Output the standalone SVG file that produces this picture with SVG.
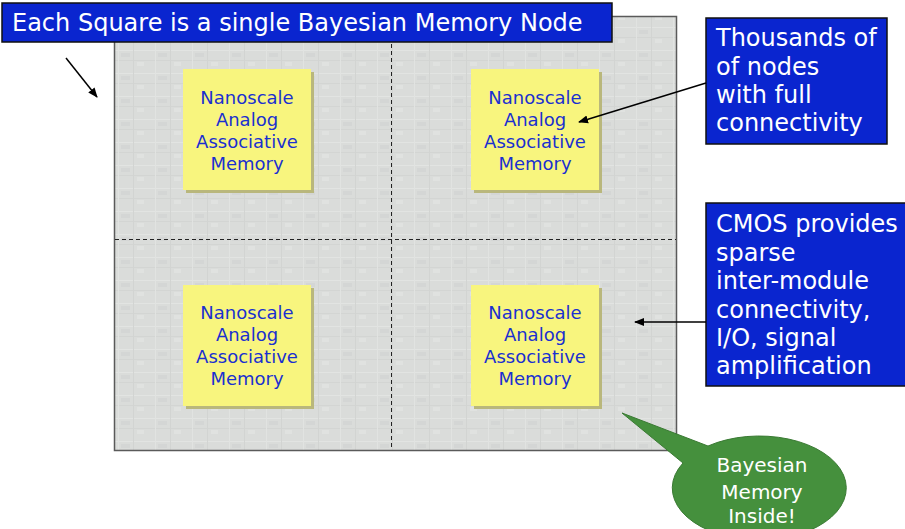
<svg xmlns="http://www.w3.org/2000/svg" width="905" height="529" viewBox="0 0 905 529">
  <defs>
    <pattern id="tex" x="0" y="0" width="37" height="23" patternUnits="userSpaceOnUse">
      <rect width="37" height="23" fill="#dadcda"/>
      <rect x="0" y="4" width="37" height="1" fill="#e2e4e2"/>
      <rect x="0" y="14" width="37" height="1" fill="#d3d5d3"/>
      <rect x="7" y="0" width="1" height="23" fill="#e1e3e1"/>
      <rect x="22" y="0" width="1" height="23" fill="#d2d4d2"/>
      <rect x="10" y="7" width="9" height="4" fill="#d4d6d5"/>
      <rect x="26" y="16" width="7" height="4" fill="#e0e2e0"/>
    </pattern>
    <marker id="ah" viewBox="0 0 10 10" refX="9" refY="5" markerWidth="10" markerHeight="10" markerUnits="userSpaceOnUse" orient="auto">
      <path d="M0,1 L10,5 L0,9 Z" fill="#000"/>
    </marker>
  </defs>
  <style>
    .lbl { font-family: "DejaVu Sans", Verdana, sans-serif; }
    .node rect.face { fill: #f8f57e; }
    .node rect.shadow { fill: #b9b77c; }
    .node text { font-family: "DejaVu Sans", Verdana, sans-serif; font-size: 18px; fill: #1a30d0; text-anchor: middle; }
    .blue { fill: #0a25cf; stroke: #111; stroke-width: 1.5; }
    .wt { font-family: "DejaVu Sans", Verdana, sans-serif; font-size: 24px; fill: #fff; }
    .conn line { stroke: #000; stroke-width: 1.5; fill: none; }
    .dash { stroke: #222; stroke-width: 1; stroke-dasharray: 4 3; fill: none; }
  </style>

  <!-- chip background -->
  <g id="chip">
    <rect x="114.5" y="16.5" width="562" height="434" fill="url(#tex)" stroke="#5a5a5a" stroke-width="1.5"/>
    <line class="dash" x1="391.5" y1="16" x2="391.5" y2="450"/>
    <line class="dash" x1="115" y1="239.5" x2="676" y2="239.5"/>
  </g>

  <!-- memory nodes -->
  <g id="node1" class="node">
    <rect class="shadow" x="186" y="72" width="128" height="121"/>
    <rect class="face" x="183" y="69" width="128" height="121"/>
    <text x="247" y="104">Nanoscale</text>
    <text x="247" y="126">Analog</text>
    <text x="247" y="148">Associative</text>
    <text x="247" y="170">Memory</text>
  </g>
  <g id="node2" class="node">
    <rect class="shadow" x="474" y="72" width="128" height="121"/>
    <rect class="face" x="471" y="69" width="128" height="121"/>
    <text x="535" y="104">Nanoscale</text>
    <text x="535" y="126">Analog</text>
    <text x="535" y="148">Associative</text>
    <text x="535" y="170">Memory</text>
  </g>
  <g id="node3" class="node">
    <rect class="shadow" x="186" y="288" width="128" height="121"/>
    <rect class="face" x="183" y="285" width="128" height="121"/>
    <text x="247" y="319">Nanoscale</text>
    <text x="247" y="341">Analog</text>
    <text x="247" y="363">Associative</text>
    <text x="247" y="385">Memory</text>
  </g>
  <g id="node4" class="node">
    <rect class="shadow" x="474" y="288" width="128" height="121"/>
    <rect class="face" x="471" y="285" width="128" height="121"/>
    <text x="535" y="319">Nanoscale</text>
    <text x="535" y="341">Analog</text>
    <text x="535" y="363">Associative</text>
    <text x="535" y="385">Memory</text>
  </g>

  <!-- title label -->
  <g id="title">
    <rect class="blue" x="2" y="3" width="610" height="39"/>
    <text class="wt" x="12" y="31">Each Square is a single Bayesian Memory Node</text>
  </g>

  <!-- thousands label -->
  <g id="thousands">
    <rect class="blue" x="706" y="18" width="181" height="126"/>
    <text class="wt" x="716" y="46">Thousands of</text>
    <text class="wt" x="716" y="75">of nodes</text>
    <text class="wt" x="716" y="103">with full</text>
    <text class="wt" x="716" y="131">connectivity</text>
  </g>

  <!-- CMOS label -->
  <g id="cmos">
    <rect class="blue" x="706" y="203" width="200" height="183"/>
    <text class="wt" x="716" y="232">CMOS provides</text>
    <text class="wt" x="716" y="261">sparse</text>
    <text class="wt" x="716" y="289">inter-module</text>
    <text class="wt" x="716" y="318">connectivity,</text>
    <text class="wt" x="716" y="346">I/O, signal</text>
    <text class="wt" x="716" y="374">amplification</text>
  </g>

  <!-- callout -->
  <g id="callout">
    <path d="M622,413 L708,446 A87,52 0 1 1 683,463 Z" fill="#45903d" stroke="#3a7a33" stroke-width="1"/>
    <text class="lbl" x="762" y="472" font-size="20" fill="#fff" text-anchor="middle">Bayesian</text>
    <text class="lbl" x="762" y="499" font-size="20" fill="#fff" text-anchor="middle">Memory</text>
    <text class="lbl" x="762" y="523" font-size="20" fill="#fff" text-anchor="middle">Inside!</text>
  </g>

  <!-- connectors -->
  <g id="connectors" class="conn">
    <line x1="66" y1="58" x2="97" y2="97" marker-end="url(#ah)"/>
    <line x1="706" y1="83" x2="579" y2="122" marker-end="url(#ah)"/>
    <line x1="706" y1="322" x2="635" y2="322" marker-end="url(#ah)"/>
  </g>
</svg>
